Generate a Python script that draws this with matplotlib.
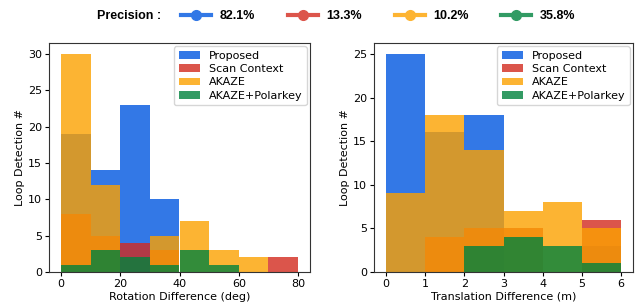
import matplotlib
matplotlib.use("Agg")
import matplotlib.pyplot as plt
from matplotlib.lines import Line2D
import numpy as np

methods = ["Proposed", "Scan Context", "AKAZE", "AKAZE+Polarkey"]
colors = ["#0056E0", "#D32A1E", "#FCA100", "#00823D"]
line_colors = ["#3278E6", "#DC554B", "#FDB432", "#329B64"]
precision = ["82.1%", "13.3%", "10.2%", "35.8%"]

rot_edges = [0, 10, 20, 30, 40, 50, 60, 70, 80]
rot_proposed = [19, 14, 23, 10, 0, 0, 0, 0]
rot_scan = [8, 5, 4, 3, 0, 0, 0, 2]
rot_akaze = [30, 12, 0, 5, 7, 3, 2, 0]
rot_polar = [1, 3, 2, 1, 3, 1, 0, 0]

tra_edges = [0, 1, 2, 3, 4, 5, 6]
tra_proposed = [25, 16, 18, 0, 0, 3]
tra_scan = [0, 4, 5, 5, 0, 6]
tra_akaze = [9, 18, 14, 7, 8, 5]
tra_polar = [0, 0, 3, 4, 3, 1]

rot_ticks = [0, 20, 40, 60, 80]
tra_ticks = [0, 1, 2, 3, 4, 5, 6]

fig = plt.figure(figsize=(6.35, 3.03), dpi=100)
ax1 = fig.add_axes([49/635, 1-272/303, (310-49)/635, (272-43)/303])
ax2 = fig.add_axes([374/635, 1-272/303, (633-374)/635, (272-43)/303])

def draw(ax, edges, series, xlabel, ticks):
    edges = np.array(edges, dtype=float)
    centers = (edges[:-1] + edges[1:]) / 2
    for name, vals, c in zip(methods, series, colors):
        ax.hist(centers, bins=edges, weights=vals, color=c, alpha=0.8, label=name)
    ax.set_xlabel(xlabel, fontsize=8, labelpad=2)
    ax.set_ylabel("Loop Detection #", fontsize=8, labelpad=2)
    ax.set_xticks(ticks)
    ax.tick_params(labelsize=8, length=3, pad=2)
    for s in ax.spines.values():
        s.set_color("#333333")
    ax.legend(loc="upper right", fontsize=8, borderaxespad=0.3, handlelength=1.9, labelspacing=0.3)

draw(ax1, rot_edges, [rot_proposed, rot_scan, rot_akaze, rot_polar], "Rotation Difference (deg)", rot_ticks)
draw(ax2, tra_edges, [tra_proposed, tra_scan, tra_akaze, tra_polar], "Translation Difference (m)", tra_ticks)

fig.text(97/635, 1-16/303, "Precision :", fontsize=9, fontweight="bold", family="Liberation Sans",
         ha="left", va="center")
handles = [Line2D([0], [0], color=c, lw=3, marker="o", markersize=7) for c in line_colors]
fig.legend(handles, precision, loc="center left", bbox_to_anchor=(181/635, 1-16/303), ncol=4,
           frameon=False, prop={"weight": "bold", "size": 9, "family": "Liberation Sans"},
           handlelength=2.4, columnspacing=2.6, handletextpad=0.7, borderaxespad=0, borderpad=0)

fig.savefig("out.png", dpi=100)
